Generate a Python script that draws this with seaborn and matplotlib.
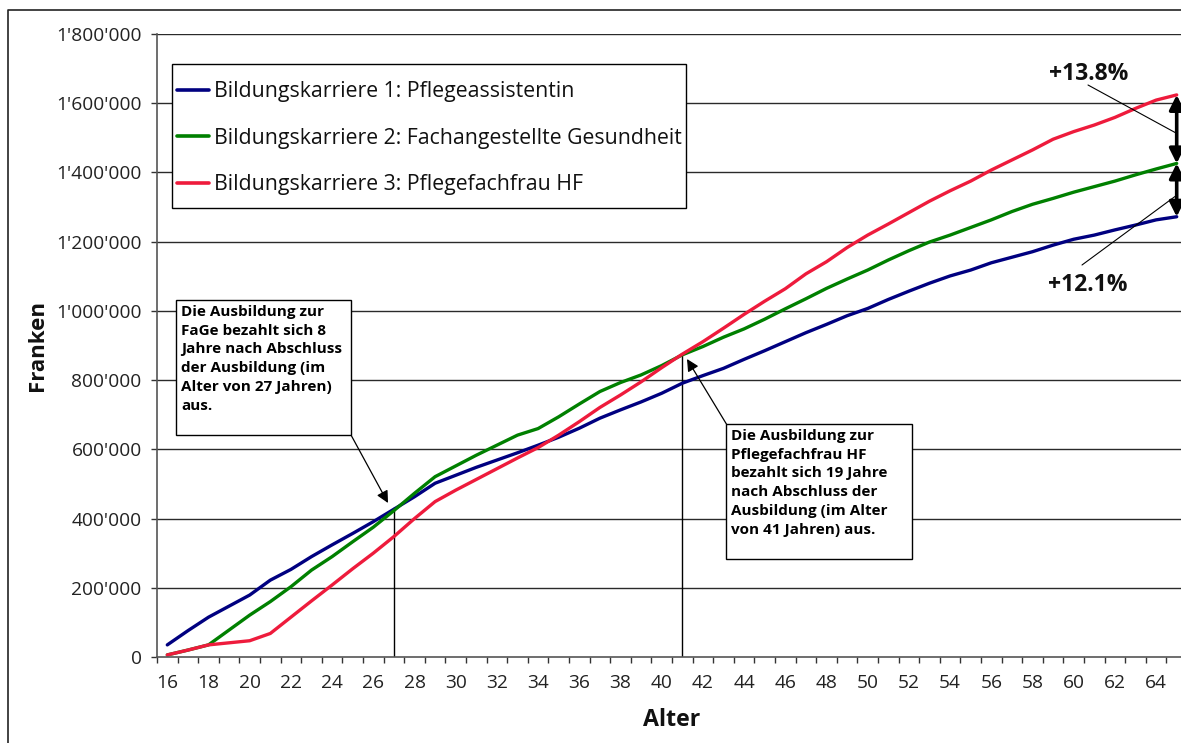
import matplotlib
matplotlib.use("Agg")
import matplotlib.pyplot as plt
import matplotlib.ticker as mticker
from matplotlib.patches import Rectangle, FancyArrowPatch
from matplotlib.lines import Line2D
import seaborn as sns
import pandas as pd

ages = list(range(16, 66))

karriere1 = [35, 76, 115, 147, 179, 222, 253, 290, 324, 357,
             391, 427, 463, 502, 525, 548, 569, 590, 612, 635,
             661, 690, 714, 737, 762, 791, 813, 834, 860, 885,
             911, 937, 961, 986, 1007, 1033, 1057, 1080, 1101, 1118,
             1139, 1155, 1171, 1190, 1207, 1219, 1234, 1248, 1263, 1272]
karriere2 = [6, 20, 35, 78, 121, 160, 203, 251, 290, 333,
             375, 423, 473, 521, 552, 583, 612, 641, 660, 694,
             731, 767, 793, 815, 842, 873, 897, 924, 948, 976,
             1006, 1035, 1065, 1092, 1118, 1147, 1174, 1199, 1219, 1241,
             1263, 1287, 1308, 1325, 1343, 1359, 1375, 1393, 1410, 1426]
karriere3 = [6, 20, 35, 41, 47, 68, 115, 162, 208, 255,
             300, 348, 400, 449, 482, 513, 544, 575, 605, 641,
             680, 721, 757, 795, 836, 875, 911, 950, 990, 1028,
             1064, 1107, 1142, 1183, 1219, 1251, 1284, 1317, 1347, 1375,
             1407, 1436, 1465, 1496, 1518, 1537, 1559, 1585, 1609, 1624]

series_names = ["Bildungskarriere 1: Pflegeassistentin",
                "Bildungskarriere 2: Fachangestellte Gesundheit",
                "Bildungskarriere 3: Pflegefachfrau HF"]
series_colors = ["#000080", "#008000", "#EE1B3C"]

y_ticks = list(range(0, 1800001, 200000))
x_tick_labels = list(range(16, 65, 2))

note1 = "Die Ausbildung zur\nFaGe bezahlt sich 8\nJahre nach Abschluss\nder Ausbildung (im\nAlter von 27 Jahren)\naus."
note2 = "Die Ausbildung zur\nPflegefachfrau HF\nbezahlt sich 19 Jahre\nnach Abschluss der\nAusbildung (im Alter\nvon 41 Jahren) aus."
diff_top = "+13.8%"
diff_bottom = "+12.1%"

rows = []
for name, vals in zip(series_names, [karriere1, karriere2, karriere3]):
    for a, v in zip(ages, vals):
        rows.append({"Alter": a, "Franken": v * 1000, "Karriere": name})
df = pd.DataFrame(rows)

sns.set_theme(style="white")
plt.rcParams["font.family"] = ["Open Sans", "DejaVu Sans"]

W, H = 1181, 743
fig = plt.figure(figsize=(W / 100, H / 100), dpi=100)


def fp(x, y):
    return (x / W, 1 - y / H)


ax = fig.add_axes([157 / W, (H - 657) / H, (1187 - 157) / W, (657 - 34) / H])

sns.lineplot(data=df, x="Alter", y="Franken", hue="Karriere",
             hue_order=series_names, palette=series_colors,
             linewidth=2.4, ax=ax, legend=False)

ax.set_xlim(15.5, 65.5)
ax.set_ylim(0, 1800000)

ax.set_yticks(y_ticks)
ax.yaxis.set_major_formatter(mticker.FuncFormatter(lambda v, p: f"{int(v):,}".replace(",", "'")))
ax.grid(False)
for yt in y_ticks[1:]:
    ax.axhline(yt, color="#2a2a2a", lw=1.0, zorder=0)

ax.set_xticks(x_tick_labels)
ax.set_xticklabels([str(a) for a in x_tick_labels])
ax.set_xticks([a + 0.5 for a in range(15, 66)], minor=True)
ax.tick_params(axis="x", which="major", length=0, pad=12.5, labelsize=13.8, labelcolor="#222222")
ax.tick_params(axis="x", which="minor", length=4, width=1.0, color="#333333", direction="out", bottom=True)
ax.tick_params(axis="y", which="major", length=4, width=1.0, color="#333333", direction="out", left=True,
               pad=7, labelsize=13.8, labelcolor="#222222")

for s in ["top", "right"]:
    ax.spines[s].set_visible(False)
for s in ["left", "bottom"]:
    ax.spines[s].set_color("#555555")
    ax.spines[s].set_linewidth(1.2)

ax.set_xlabel("Alter", fontsize=16.7, fontweight="bold", color="#111111")
ax.set_ylabel("Franken", fontsize=16, fontweight="bold", color="#111111")
ax.xaxis.set_label_coords(0.5, -0.082)
ax.yaxis.set_label_coords(-0.106, 0.5)

# legend: frame drawn separately inside the axes so the legend sits on top
ax.add_patch(Rectangle(fp(172, 208), (686 - 172) / W, (208 - 64) / H, transform=fig.transFigure,
                       facecolor="white", edgecolor="black", lw=1.0, zorder=4, clip_on=False))
handles = [Line2D([], [], color=c, lw=2.6) for c in series_colors]
leg = ax.legend(handles, series_names, loc="upper left",
                bbox_to_anchor=fp(177, 81), bbox_transform=fig.transFigure,
                frameon=False, fontsize=15.35,
                handlelength=1.5, handletextpad=0.24, labelspacing=1.2,
                borderpad=0, borderaxespad=0)
leg.set_zorder(6)
for t in leg.get_texts():
    t.set_color("#111111")

# vertical marker lines at break-even ages
ax.vlines(27, 0, karriere1[27 - 16] * 1000 + 6000, color="black", lw=1.0, zorder=1)
ax.vlines(41, 0, karriere3[41 - 16] * 1000, color="black", lw=1.0, zorder=1)

# note boxes
for (x0, y0, x1, y1), txt in [((176, 300, 351, 435), note1), ((726, 424, 912, 559), note2)]:
    fx0, fy1 = fp(x0, y1)
    fx1, fy0 = fp(x1, y0)
    fig.patches.append(Rectangle((fx0, fy1), fx1 - fx0, fy0 - fy1, transform=fig.transFigure,
                                 facecolor="white", edgecolor="black", lw=1.0, zorder=5))
    fig.text(*fp(x0 + 5, y0 + 5), txt, ha="left", va="top", fontsize=11, fontweight="bold",
             linespacing=1.43, color="black", zorder=6)

arrow_kw = dict(arrowstyle="-|>", color="black", lw=0.9, mutation_scale=18, shrinkA=0, shrinkB=0)
fig.add_artist(FancyArrowPatch(fp(351, 435), fp(388, 503), transform=fig.transFigure, **arrow_kw))
fig.add_artist(FancyArrowPatch(fp(727, 425), fp(687, 359), transform=fig.transFigure, **arrow_kw))

# double arrows at the end
end = ages[-1]
for lo, hi in [(karriere2[-1], karriere3[-1]), (karriere1[-1], karriere2[-1])]:
    ax.annotate("", xy=(end, hi * 1000), xytext=(end, lo * 1000),
                arrowprops=dict(arrowstyle="<|-|>", color="black", lw=2.6, mutation_scale=22,
                                shrinkA=0, shrinkB=0), annotation_clip=False, zorder=7)

fig.text(*fp(1089, 74), diff_top, ha="center", va="center", fontsize=16.5, fontweight="bold", color="#111111")
fig.text(*fp(1088, 285), diff_bottom, ha="center", va="center", fontsize=16.5, fontweight="bold", color="#111111")
fig.add_artist(Line2D([fp(1088, 85)[0], fp(1176, 133)[0]], [fp(1088, 85)[1], fp(1176, 133)[1]],
                      transform=fig.transFigure, color="black", lw=0.8))
fig.add_artist(Line2D([fp(1082, 265)[0], fp(1177, 195)[0]], [fp(1082, 265)[1], fp(1177, 195)[1]],
                      transform=fig.transFigure, color="black", lw=0.8))

# outer border: only left and top edges are inside the cropped picture
fig.add_artist(Line2D([fp(8, 760)[0], fp(8, 10)[0], fp(1300, 10)[0]],
                      [fp(8, 760)[1], fp(8, 10)[1], fp(1300, 10)[1]],
                      transform=fig.transFigure, color="#222222", lw=1.2))

fig.savefig("out.png", dpi=100)
